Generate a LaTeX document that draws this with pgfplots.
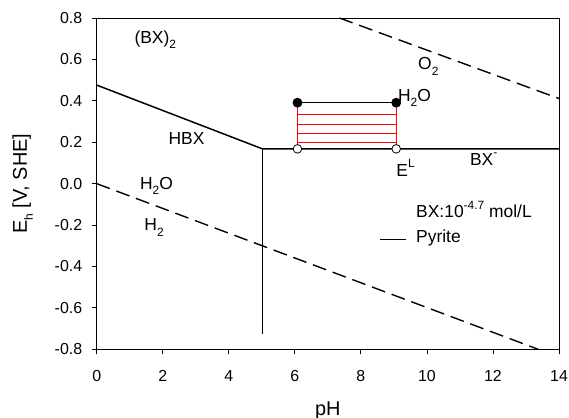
\documentclass[border=0pt]{standalone}
\usepackage{fontspec}
\setmainfont{Liberation Sans}
\usepackage{pgfplots}
\pgfplotsset{compat=1.18}
\newcommand\tickfont{\fontsize{16}{19}\selectfont}
\newcommand\txtfont{\fontsize{17.5}{21}\selectfont}
\newcommand\axfont{\fontsize{20}{24}\selectfont}
% small raised / lowered indices in the text font
\newcommand\lo[1]{\raisebox{-0.3em}{\fontsize{12}{14}\selectfont #1}}
\newcommand\hi[1]{\raisebox{0.5em}{\fontsize{12}{14}\selectfont #1}}
\begin{document}
\begin{tikzpicture}
\begin{axis}[
  name=ax,
  scale only axis,
  width=462.3bp, height=331.3bp,
  xmin=0, xmax=14, ymin=-0.8, ymax=0.8,
  xtick={0,2,4,6,8,10,12,14},
  xticklabels={0,2,4,6,8,10,12,14},
  ytick={-0.8,-0.6,-0.4,-0.2,0,0.2,0.4,0.6,0.8},
  yticklabels={-0.8,-0.6,-0.4,-0.2,0.0,0.2,0.4,0.6,0.8},
  tick pos=left,
  tick align=outside,
  major tick length=5bp,
  tick style={black, line width=0.8bp},
  axis line style={black, line width=0.8bp},
  tick label style={font=\tickfont},
  xticklabel style={yshift=-12.5bp},
  yticklabel style={xshift=-6bp},
  every axis x label/.style={at={(axis description cs:0.5,-0.1983)}, anchor=base, inner sep=0pt, font=\axfont},
  every axis y label/.style={at={(axis description cs:-0.1508,0.5)}, rotate=90, anchor=base, inner sep=0pt, font=\axfont},
  xlabel={pH},
  ylabel={E\lo{h} [V, SHE]},
  clip=true,
]
% water stability limits
\addplot[black, line width=1.4bp, dash pattern=on 14bp off 7bp] coordinates {(0,0) (13.37,-0.8)};
\addplot[black, line width=1.4bp, dash pattern=on 14bp off 7bp] coordinates {(7.35,0.8) (14,0.411)};
% xanthate boundaries
\addplot[black, line width=1.5bp] coordinates {(0,0.476) (5.02,0.168) (14,0.168)};
\addplot[black, line width=1.5bp] coordinates {(5.02,0.168) (5.02,-0.727)};
% hatched window between rest potential and oxidation limit
\addplot[red, line width=0.8bp] coordinates {(6.08,0.168) (6.08,0.391)};
\addplot[red, line width=0.8bp] coordinates {(9.07,0.168) (9.07,0.391)};
\addplot[red, line width=0.8bp] coordinates {(6.08,0.197) (9.07,0.197)};
\addplot[red, line width=0.8bp] coordinates {(6.08,0.243) (9.07,0.243)};
\addplot[red, line width=0.8bp] coordinates {(6.08,0.288) (9.07,0.288)};
\addplot[red, line width=0.8bp] coordinates {(6.08,0.335) (9.07,0.335)};
\addplot[black, line width=1.2bp, mark=*, mark size=4.3bp, mark options={solid, fill=black}] coordinates {(6.08,0.391) (9.07,0.391)};
\addplot[only marks, mark=*, mark size=4.3bp, mark options={draw=black, fill=white, line width=0.8bp}] coordinates {(6.08,0.168) (9.07,0.168)};
% region labels
\node[anchor=base west, inner sep=0pt, font=\txtfont] at (axis cs:1.14,0.679) {(BX)\lo{2}};
\node[anchor=base west, inner sep=0pt, font=\txtfont] at (axis cs:2.17,0.191) {HBX};
\node[anchor=base west, inner sep=0pt, font=\txtfont] at (axis cs:1.31,-0.0265) {H\lo{2}O};
\node[anchor=base west, inner sep=0pt, font=\txtfont] at (axis cs:1.44,-0.228) {H\lo{2}};
\node[anchor=base west, inner sep=0pt, font=\txtfont] at (axis cs:9.73,0.549) {O\lo{2}};
\node[anchor=base west, inner sep=0pt, font=\txtfont] at (axis cs:9.12,0.399) {H\lo{2}O};
\node[anchor=base west, inner sep=0pt, font=\txtfont] at (axis cs:9.07,0.036) {E\hi{L}};
\node[anchor=base west, inner sep=0pt, font=\txtfont] at (axis cs:11.30,0.0895) {BX\hi{-}};
\node[anchor=base west, inner sep=0pt, font=\txtfont] at (axis cs:9.67,-0.165) {BX:10\hi{-4.7} mol/L};
\node[anchor=base west, inner sep=0pt, font=\txtfont] at (axis cs:9.67,-0.286) {Pyrite};
\draw[black, line width=1.5bp] (axis cs:8.58,-0.27) -- (axis cs:9.37,-0.27);
\end{axis}
\pgfresetboundingbox
\path ([xshift=-96.7bp,yshift=-68.7bp]ax.south west) rectangle ([xshift=10bp,yshift=18bp]ax.north east);
\end{tikzpicture}
\end{document}
